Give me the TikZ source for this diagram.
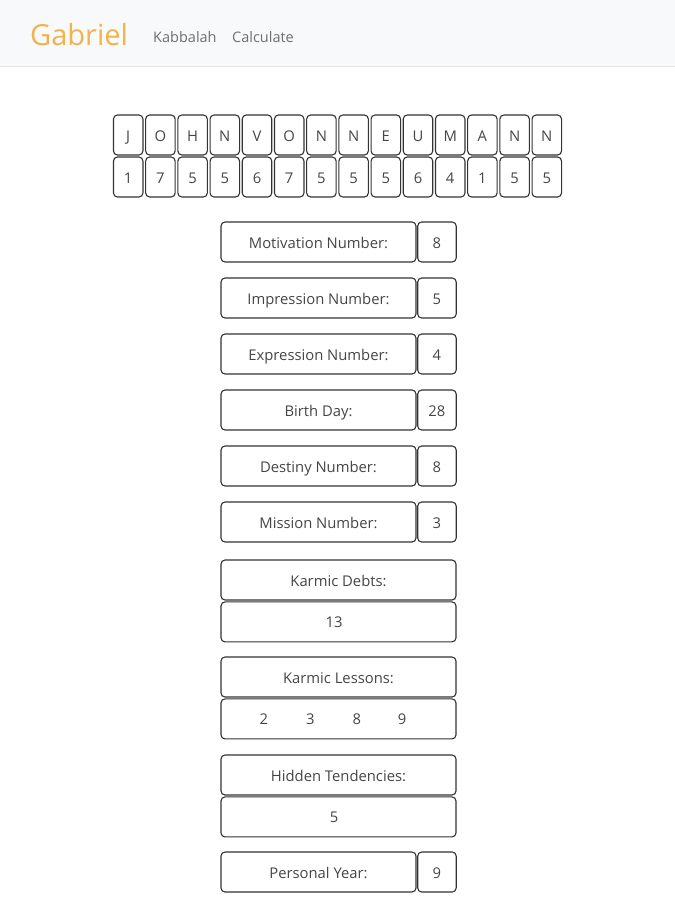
\documentclass[tikz,border=0pt]{standalone}
\usepackage{fontspec}
\setmainfont{Open Sans}
\usetikzlibrary{matrix,positioning}
\definecolor{navbg}{HTML}{F8F9FA}
\definecolor{navline}{HTML}{E3E3E3}
\definecolor{brand}{HTML}{F2B24E}
\definecolor{navtext}{HTML}{6F6F6F}
\definecolor{celltext}{HTML}{454545}
\definecolor{cellline}{HTML}{333333}
\tikzset{cell/.style={draw=cellline,line width=1.1pt,rounded corners=4pt,text=celltext,
        font=\fontsize{14.8}{17}\selectfont,inner sep=0pt,text height=12pt,text depth=0pt}}
\tikzset{boardstyle/.style={matrix of nodes,
        nodes in empty cells,
        row sep=0.9pt,
        column sep=1.6pt,
        nodes={cell,minimum width=29.5pt,minimum height=40pt,anchor=center}}}
\tikzset{labelbox/.style={cell,minimum width=195pt,minimum height=40pt}}
\tikzset{valuebox/.style={cell,minimum width=38.5pt,minimum height=40pt}}
\tikzset{widebox/.style={cell,minimum width=235pt,minimum height=40pt}}
\tikzset{navlink/.style={text=navtext,anchor=base west,inner sep=0pt,font=\fontsize{14.5}{17}\selectfont}}

\begin{document}
\begin{tikzpicture}[x=1pt,y=-1pt]
    \useasboundingbox (0,0) rectangle (675,900);
    % navigation bar
    \fill[navbg] (0,0) rectangle (675,66);
    \draw[navline] (0,66.5) -- (675,66.5);
    \node[anchor=base west,inner sep=0pt,text=brand,font=\fontsize{29}{34}\selectfont] (brand) at (30,45) {Gabriel};
    \node[navlink] (kabbalah) at (153,42) {Kabbalah};
    \node[navlink] (calculate) at (232,42) {Calculate};
    % letters and their numbers
    \matrix[boardstyle] (name) at (337.5,156) {
        J & O & H & N & V & O & N & N & E & U & M & A & N & N \\
        1 & 7 & 5 & 5 & 6 & 7 & 5 & 5 & 5 & 6 & 4 & 1 & 5 & 5 \\
        };
    % numbers with one value
    \foreach \y/\nm/\lab/\val in {242/motivation/Motivation Number:/8,
                                298/impression/Impression Number:/5,
                                354/expression/Expression Number:/4,
                                410/birthday/Birth Day:/28,
                                466/destiny/Destiny Number:/8,
                                522/mission/Mission Number:/3,
                                872/year/Personal Year:/9}{
        \node[labelbox] (\nm-label) at (318.5,\y) {\lab};
        \node[valuebox,right=0.6pt of \nm-label] (\nm-value) {\val};
    }
    % numbers with a list below
    \node[widebox] (debts-label) at (338.5,580) {Karmic Debts:};
    \node[widebox,below=0.8pt of debts-label] (debts-value) {13\hspace*{9pt}};
    \node[widebox] (lessons-label) at (338.5,677) {Karmic Lessons:};
    \node[widebox,below=0.8pt of lessons-label] (lessons-value)
        {2\hspace{38pt}3\hspace{38pt}8\hspace{37pt}9\hspace*{11pt}};
    \node[widebox] (hidden-label) at (338.5,775) {Hidden Tendencies:};
    \node[widebox,below=0.8pt of hidden-label] (hidden-value) {5\hspace*{9pt}};
\end{tikzpicture}
\end{document}
